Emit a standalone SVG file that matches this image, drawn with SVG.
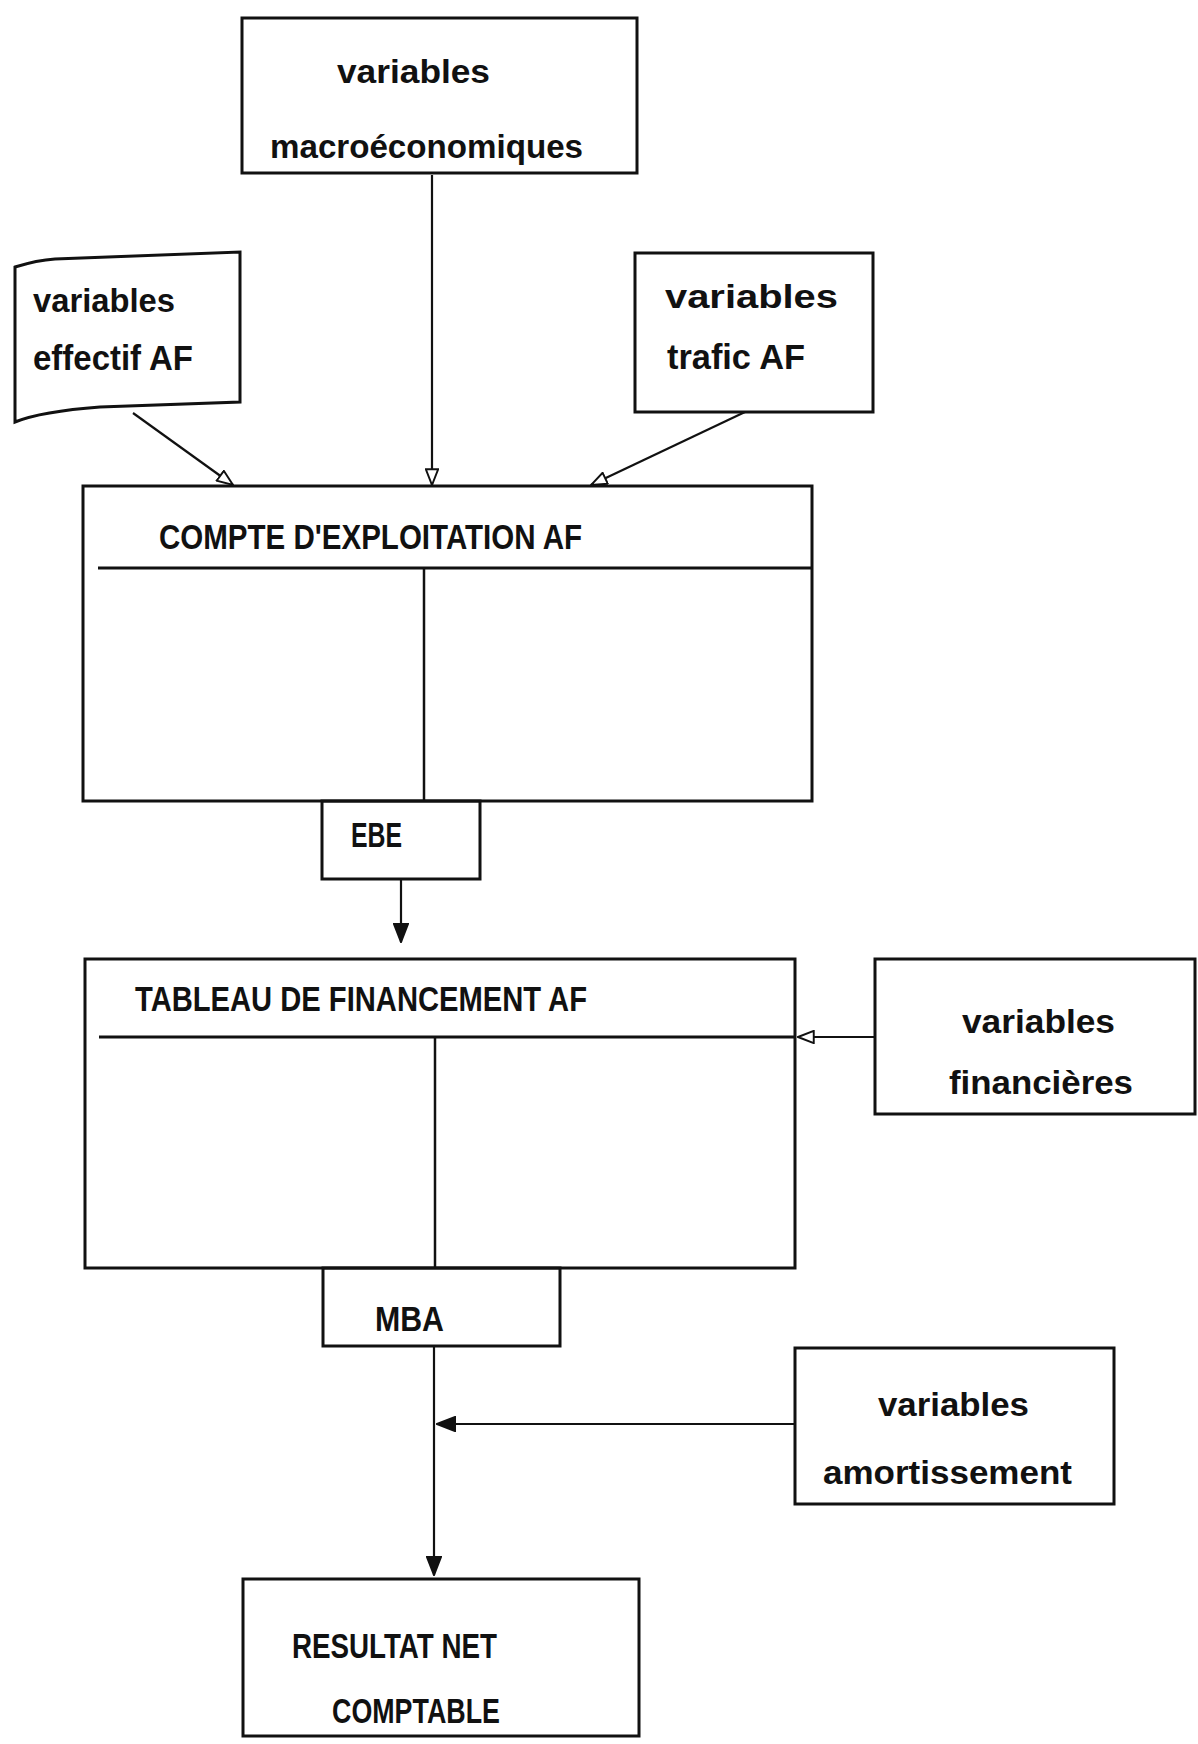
<svg xmlns="http://www.w3.org/2000/svg" width="1198" height="1744" viewBox="0 0 1198 1744">
  <style>
    .box { fill: none; stroke: #111; stroke-width: 3; stroke-linejoin: miter; }
    .rule { fill: none; stroke: #111; stroke-width: 3; }
    .div { fill: none; stroke: #111; stroke-width: 2.5; }
    .wire { fill: none; stroke: #111; stroke-width: 2.2; }
    .t { font-family: "Liberation Sans", Arial, sans-serif; font-weight: bold; fill: #111; font-size: 35px; }
    .lc { font-size: 34px; }
  </style>
  <defs>
    <marker id="open" viewBox="0 0 20 16" refX="19" refY="8" markerWidth="18" markerHeight="14" markerUnits="userSpaceOnUse" orient="auto">
      <path d="M1,1 L19,8 L1,15 Z" fill="#fff" stroke="#111" stroke-width="2.2"/>
    </marker>
    <marker id="solid" viewBox="0 0 20 16" refX="19" refY="8" markerWidth="20" markerHeight="16" markerUnits="userSpaceOnUse" orient="auto">
      <path d="M1,1 L19,8 L1,15 Z" fill="#111" stroke="#111" stroke-width="2"/>
    </marker>
  </defs>
  <rect width="1198" height="1744" fill="#fff"/>

  <!-- connectors -->
  <g id="connectors">
    <line class="wire" x1="432" y1="175" x2="432" y2="485" marker-end="url(#open)"/>
    <line class="wire" x1="133" y1="413" x2="233" y2="485" marker-end="url(#open)"/>
    <line class="wire" x1="745" y1="412" x2="591" y2="485" marker-end="url(#open)"/>
    <line class="wire" x1="401" y1="879" x2="401" y2="942" marker-end="url(#solid)"/>
    <line class="wire" x1="874" y1="1037" x2="798" y2="1037" marker-end="url(#open)"/>
    <line class="wire" x1="434" y1="1346" x2="434" y2="1575" marker-end="url(#solid)"/>
    <line class="wire" x1="794" y1="1424" x2="437" y2="1424" marker-end="url(#solid)"/>
  </g>

  <g id="macro">
    <rect class="box" x="242" y="18" width="395" height="155"/>
    <text class="t lc" x="337" y="83" textLength="153" lengthAdjust="spacingAndGlyphs">variables</text>
    <text class="t lc" x="270" y="158" textLength="313" lengthAdjust="spacingAndGlyphs">macroéconomiques</text>
  </g>

  <g id="effectif">
    <path class="box" d="M15,267 C28,263 40,260 55,259 L240,252 L240,402 L100,407 C60,410 35,414 15,422 Z"/>
    <text class="t lc" x="33" y="312" textLength="142" lengthAdjust="spacingAndGlyphs">variables</text>
    <text class="t" x="33" y="370" textLength="160" lengthAdjust="spacingAndGlyphs">effectif AF</text>
  </g>

  <g id="trafic">
    <rect class="box" x="635" y="253" width="238" height="159"/>
    <text class="t lc" x="665" y="308" textLength="173" lengthAdjust="spacingAndGlyphs">variables</text>
    <text class="t" x="667" y="369" textLength="138" lengthAdjust="spacingAndGlyphs">trafic AF</text>
  </g>

  <g id="compte">
    <rect class="box" x="83" y="486" width="729" height="315"/>
    <line class="rule" x1="98" y1="568" x2="812" y2="568"/>
    <line class="div" x1="424" y1="568" x2="424" y2="801"/>
    <text class="t" x="159" y="549" textLength="423" lengthAdjust="spacingAndGlyphs">COMPTE D'EXPLOITATION AF</text>
  </g>

  <g id="ebe">
    <rect class="box" x="322" y="801" width="158" height="78"/>
    <text class="t" x="351" y="847" textLength="51" lengthAdjust="spacingAndGlyphs">EBE</text>
  </g>

  <g id="tableau">
    <rect class="box" x="85" y="959" width="710" height="309"/>
    <line class="rule" x1="99" y1="1037" x2="795" y2="1037"/>
    <line class="div" x1="435" y1="1037" x2="435" y2="1268"/>
    <text class="t" x="135" y="1011" textLength="452" lengthAdjust="spacingAndGlyphs">TABLEAU DE FINANCEMENT AF</text>
  </g>

  <g id="financieres">
    <rect class="box" x="875" y="959" width="320" height="155"/>
    <text class="t lc" x="962" y="1033" textLength="153" lengthAdjust="spacingAndGlyphs">variables</text>
    <text class="t lc" x="949" y="1094" textLength="184" lengthAdjust="spacingAndGlyphs">financières</text>
  </g>

  <g id="mba">
    <rect class="box" x="323" y="1268" width="237" height="78"/>
    <text class="t" x="375" y="1331" textLength="69" lengthAdjust="spacingAndGlyphs">MBA</text>
  </g>

  <g id="amortissement">
    <rect class="box" x="795" y="1348" width="319" height="156"/>
    <text class="t lc" x="878" y="1416" textLength="151" lengthAdjust="spacingAndGlyphs">variables</text>
    <text class="t lc" x="823" y="1484" textLength="249" lengthAdjust="spacingAndGlyphs">amortissement</text>
  </g>

  <g id="resultat">
    <rect class="box" x="243" y="1579" width="396" height="157"/>
    <text class="t" x="292" y="1658" textLength="205" lengthAdjust="spacingAndGlyphs">RESULTAT NET</text>
    <text class="t" x="332" y="1723" textLength="168" lengthAdjust="spacingAndGlyphs">COMPTABLE</text>
  </g>
</svg>
